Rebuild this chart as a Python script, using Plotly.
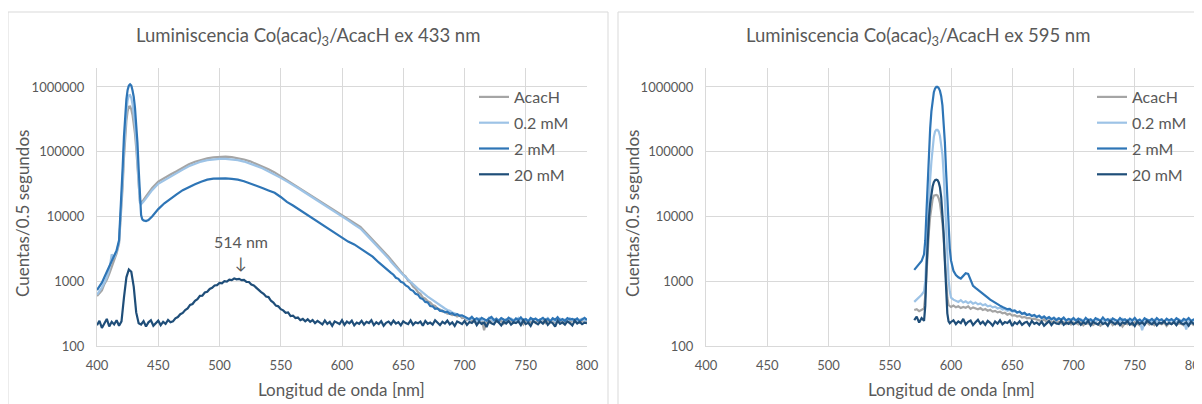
import plotly.graph_objects as go

# ---------------- Left chart (ex 433 nm) ----------------
wl_433_smooth = [400, 402, 404, 406, 408, 410, 412, 414, 416, 418,
                 420, 421, 422, 423, 424, 425, 426, 427, 428, 429,
                 430, 431, 432, 433, 434, 435, 436, 437, 438, 440,
                 442, 445, 450, 455, 460, 465, 470, 475, 480, 485,
                 490, 495, 500, 505, 510, 515, 520, 525, 530, 535,
                 540, 545, 550, 555, 560, 565, 570, 575, 580, 585,
                 590, 595, 600, 605, 610, 615, 620, 625, 630, 635, 638]
wl_433_tail = list(range(640, 801, 2))
wl_433 = wl_433_smooth + wl_433_tail

acach_433 = [590, 640, 720, 900, 1050, 1300, 1650, 2000, 2700, 3800,
             12000, 30000, 80000, 170000, 300000, 420000, 495000, 500000, 450000, 370000,
             280000, 190000, 115000, 60000, 28000, 17500, 16500, 17000, 18000, 20500,
             23000, 27500, 34500, 39500, 44500, 50000, 57000, 64000, 70000, 75000,
             79000, 82000, 84000, 84000, 82500, 80000, 76000, 71000, 65000, 59500,
             53700, 47900, 41700, 36700, 32400, 28200, 24500, 21400, 18600, 16200,
             14100, 12300, 10700, 9100, 7900, 6900, 5500, 4400, 3550, 2750, 2400,
             2150, 1930, 1780, 1550, 1440, 1270, 1180, 1020, 950, 830,
             770, 680, 640, 560, 540, 490, 470, 430, 415, 375,
             365, 340, 340, 315, 315, 300, 305, 285, 295, 270, 275,
             250, 262, 238, 255, 230, 248, 260, 175, 245, 228,
             252, 240, 265, 232, 246, 222, 255, 238, 248, 230,
             258, 236, 244, 215, 250, 240, 232, 255, 228, 246,
             238, 252, 225, 244, 236, 250, 230, 242, 256, 228,
             240, 248, 226, 252, 236, 244, 230, 250, 238, 242]

mm02_433 = [620, 700, 800, 950, 1150, 1500, 2600, 2300, 2900, 4000,
            14000, 38000, 110000, 240000, 430000, 620000, 740000, 750000, 680000, 540000,
            400000, 260000, 150000, 70000, 30000, 16500, 15500, 16000, 17000, 19000,
            21500, 25500, 32000, 36500, 41000, 46500, 53000, 59500, 65500, 70500,
            74000, 76500, 77500, 77500, 76000, 74000, 70500, 66000, 60500, 55500,
            50000, 45000, 39500, 34800, 30800, 26800, 23300, 20300, 17700, 15400,
            13400, 11700, 10200, 8700, 7500, 6500, 5200, 4150, 3350, 2600, 2250,
            2000, 1800, 1650, 1480, 1360, 1250, 1150, 1060, 960, 890,
            840, 770, 720, 660, 620, 580, 545, 505, 480, 450,
            420, 395, 380, 360, 350, 330, 320, 305, 300, 290, 282,
            262, 248, 270, 255, 240, 266, 250, 258, 244, 272,
            252, 240, 262, 250, 268, 246, 258, 242, 264, 252,
            248, 270, 238, 256, 262, 246, 258, 240, 266, 250,
            244, 262, 252, 270, 246, 258, 240, 254, 264, 248,
            256, 242, 268, 250, 260, 246, 254, 264, 244, 258]

mm2_433 = [730, 820, 950, 1150, 1400, 1700, 2150, 2500, 3000, 4300,
           20000, 60000, 170000, 380000, 650000, 900000, 1050000, 1100000, 1050000, 880000,
           700000, 480000, 280000, 140000, 55000, 20000, 10500, 9000, 8700, 8500,
           8800, 10000, 13000, 16000, 19000, 22000, 25500, 28500, 31500, 34500,
           37000, 38500, 38800, 38800, 38000, 37000, 35000, 32500, 30000, 27500,
           25200, 23200, 20000, 16800, 14800, 12800, 11000, 9500, 8300, 7200,
           6200, 5400, 4700, 4100, 3700, 3200, 2750, 2400, 1950, 1600, 1450,
           1350, 1260, 1130, 1090, 980, 950, 860, 820, 740, 710,
           640, 620, 550, 530, 480, 470, 415, 410, 375, 380,
           350, 352, 330, 338, 315, 322, 300, 310, 292, 298, 282,
           275, 260, 282, 255, 268, 250, 272, 258, 246, 266,
           280, 252, 262, 244, 270, 256, 248, 274, 258, 242,
           266, 252, 276, 248, 260, 238, 270, 256, 264, 246,
           258, 272, 250, 262, 240, 268, 254, 278, 248, 260,
           244, 270, 256, 262, 250, 266, 242, 258, 272, 252]

wl_433_20 = list(range(400, 801, 2))
mm20_433 = [210, 245, 190, 230, 262, 200, 236, 215, 250, 205,
            240, 560, 1150, 1520, 1400, 820, 330, 225,
            215, 242, 200, 232, 250, 205, 226, 246, 210, 236, 220, 252, 232,
            240, 268, 280, 310, 325, 360, 380, 430, 445, 500,
            530, 595, 600, 670, 690, 760, 790, 860, 870, 940,
            930, 1000, 990, 1060, 1040, 1100, 1070, 1090, 1040, 1050,
            980, 975, 890, 860, 790, 750, 680, 640, 580, 570,
            500, 470, 420, 410, 370, 355, 325, 330, 290, 295,
            270, 275, 250, 262, 240, 258, 236, 252, 226, 244,
            232, 215, 248, 220, 236, 205, 240, 226, 218, 250,
            212, 238, 224, 246, 208, 230, 220, 244, 214, 236,
            226, 250, 210, 232, 218, 242, 205, 228, 238, 216,
            246, 222, 234, 208, 240, 226, 218, 248, 212, 232,
            224, 238, 206, 244, 220, 230, 214, 250, 226, 210,
            236, 222, 246, 216, 232, 204, 240, 228, 218, 244,
            212, 234, 226, 248, 210, 238, 220, 230, 196, 242,
            224, 216, 246, 230, 208, 236, 222, 244, 214, 232,
            226, 240, 210, 248, 218, 230, 204, 242, 228, 216,
            238, 222, 250, 212, 234, 226, 200, 244, 220, 232,
            214, 240, 226, 208, 246, 222, 236, 218, 230, 224]

# ---------------- Right chart (ex 595 nm) ----------------
wl_595 = [570, 572, 574, 576, 578] + list(range(579, 601)) + list(range(602, 801, 2))

acach_595 = [360, 370, 345, 365, 380,
             600, 1400, 3200, 6000, 10000, 14500, 18500, 21000, 21500, 21500, 21000,
             19000, 16000, 12000, 8000, 4500, 2200, 1000, 560, 430, 410, 400,
             420, 395, 410, 385, 400, 390, 410, 375, 395, 380,
             370, 385, 360, 372, 350, 362, 340, 348, 330, 338,
             320, 326, 305, 315, 295, 300, 285, 292, 275, 282,
             268, 272, 260, 265, 255, 250, 242, 258, 235, 248,
             230, 242, 225, 238, 222, 234, 218, 236, 214, 230,
             226, 215, 234, 208, 228, 220, 236, 212, 226, 218,
             205, 230, 222, 214, 238, 210, 226, 218, 232, 200,
             224, 216, 230, 212, 236, 220, 208, 228, 218, 232,
             214, 226, 210, 236, 222, 216, 230, 204, 226, 218,
             234, 212, 224, 220, 208, 230, 216, 226, 212, 222]

mm02_595 = [480, 520, 560, 620, 700,
            1000, 2500, 7000, 18000, 38000, 70000, 120000, 170000, 205000, 218000, 218000,
            205000, 175000, 135000, 90000, 45000, 17000, 6000, 2200, 1100, 700, 560,
            520, 500, 480, 510, 470, 490, 460, 485, 450, 470,
            440, 455, 425, 440, 410, 420, 395, 405, 380, 390,
            365, 375, 350, 360, 340, 345, 325, 335, 310, 320,
            300, 310, 290, 302, 282, 295, 275, 288, 268, 280,
            262, 275, 258, 270, 250, 265, 245, 260, 248, 258,
            252, 238, 260, 244, 232, 256, 240, 250, 228, 262,
            246, 236, 254, 242, 258, 230, 250, 244, 236, 260,
            240, 252, 226, 248, 256, 238, 250, 175, 232, 258,
            244, 236, 254, 228, 250, 246, 240, 258, 234, 252,
            242, 230, 256, 240, 248, 180, 254, 226, 246, 244]

mm2_595 = [1500, 1650, 1800, 2050, 2600,
           4300, 12000, 40000, 110000, 230000, 420000, 640000, 830000, 950000, 1000000, 1000000,
           960000, 870000, 720000, 520000, 300000, 140000, 50000, 16000, 6500, 3200, 2100,
           1450, 1250, 1150, 1100, 1200, 1330, 1300, 1050, 850, 790,
           740, 700, 650, 600, 560, 520, 490, 460, 440, 420,
           400, 390, 370, 375, 350, 355, 330, 340, 315, 325,
           300, 310, 290, 300, 280, 292, 270, 285, 262, 278,
           258, 272, 250, 268, 255, 275, 248, 262, 252, 270,
           246, 265, 252, 240, 272, 250, 258, 238, 268, 254,
           244, 275, 248, 260, 236, 266, 252, 242, 270, 250,
           258, 240, 264, 248, 272, 244, 256, 238, 268, 252,
           246, 262, 240, 270, 250, 258, 236, 264, 248, 260,
           242, 268, 252, 238, 262, 250, 270, 244, 256, 262]

mm20_595 = [250, 285, 230, 270, 245,
            420, 1600, 4500, 9500, 16000, 23000, 29000, 34000, 36500, 37000, 36500,
            33500, 28000, 20000, 12000, 5500, 2000, 700, 320, 240, 225, 235,
            250, 218, 240, 226, 262, 215, 236, 248, 210, 232,
            254, 220, 238, 212, 244, 228, 206, 240, 222, 250,
            216, 234, 226, 246, 204, 232, 218, 240, 212, 228,
            236, 208, 244, 220, 230, 214, 238, 206, 226, 242,
            210, 234, 222, 218, 246, 212, 230, 220, 238, 216,
            228, 240, 212, 232, 220, 246, 208, 236, 224, 214,
            240, 218, 230, 206, 244, 226, 216, 236, 210, 232,
            222, 242, 214, 228, 204, 238, 220, 232, 212, 244,
            226, 216, 236, 208, 230, 222, 240, 214, 228, 218,
            234, 210, 242, 224, 216, 232, 206, 238, 220, 228]

series_names = ["AcacH", "0.2 mM", "2 mM", "20 mM"]
series_colors = ["#A5A5A5", "#9DC3E6", "#2E75B6", "#1F4E79"]
x_ticks = [400, 450, 500, 550, 600, 650, 700, 750, 800]
y_ticks = [100, 1000, 10000, 100000, 1000000]
y_ticktext = ["100", "1000", "10000", "100000", "1000000"]

W, H = 1202, 404
OFF = 8  # page body margin offset
FONT = "Lato, Carlito, 'Open Sans', sans-serif"
TXT = "#595959"
GRID = "#D9D9D9"

def px_x(p):
    return (p - OFF) / W

def px_y(p):
    return 1 - (p - OFF) / H

fig = go.Figure()

left_sets = [(wl_433, acach_433), (wl_433, mm02_433), (wl_433, mm2_433), (wl_433_20, mm20_433)]
right_sets = [(wl_595, acach_595), (wl_595, mm02_595), (wl_595, mm2_595), (wl_595, mm20_595)]

for i, (xv, yv) in enumerate(left_sets):
    fig.add_trace(go.Scatter(x=xv, y=yv, mode="lines", name=series_names[i],
                             line=dict(color=series_colors[i], width=2.2),
                             xaxis="x", yaxis="y", legend="legend",
                             legendgroup="L%d" % i))
for i, (xv, yv) in enumerate(right_sets):
    fig.add_trace(go.Scatter(x=xv, y=yv, mode="lines", name=series_names[i],
                             line=dict(color=series_colors[i], width=2.2),
                             xaxis="x2", yaxis="y2", legend="legend2",
                             legendgroup="R%d" % i))

yrange = [2, 6.293]
ydom = [px_y(346), px_y(68)]

def xaxis(dom, anchor):
    return dict(domain=dom, range=[400, 800], tickvals=x_ticks, anchor=anchor,
                showgrid=True, gridcolor=GRID, gridwidth=1, zeroline=False,
                showline=True, linecolor=GRID, linewidth=1, ticks="", automargin=False,
                ticklabelstandoff=7, tickfont=dict(family=FONT, size=13, color=TXT))

def yaxis(anchor):
    return dict(domain=ydom, type="log", range=yrange, tickvals=y_ticks, ticktext=y_ticktext,
                anchor=anchor, showgrid=True, gridcolor=GRID, gridwidth=1, zeroline=False,
                showline=True, linecolor=GRID, linewidth=1, ticks="", automargin=False,
                ticklabelstandoff=9, tickfont=dict(family=FONT, size=13, color=TXT))

legend_common = dict(xanchor="left", yanchor="top", bgcolor="rgba(0,0,0,0)",
                     font=dict(family=FONT, size=16, color=TXT), tracegroupgap=2,
                     itemwidth=30)

fig.update_layout(
    template="none",
    width=W, height=H, margin=dict(l=0, r=0, t=0, b=0, pad=0, autoexpand=False),
    paper_bgcolor="white", plot_bgcolor="white",
    xaxis=xaxis([px_x(97), px_x(587)], "y"),
    yaxis=yaxis("x"),
    xaxis2=xaxis([px_x(706), px_x(1196)], "y2"),
    yaxis2=yaxis("x2"),
    legend=dict(x=px_x(474), y=px_y(80), **legend_common),
    legend2=dict(x=px_x(1092), y=px_y(80), **legend_common),
    showlegend=True,
)

# chart area borders
fig.add_shape(type="rect", xref="paper", yref="paper", x0=px_x(8), x1=px_x(608),
              y0=-0.05, y1=px_y(12), line=dict(color=GRID, width=1), layer="below")
fig.add_shape(type="rect", xref="paper", yref="paper", x0=px_x(618), x1=1.05,
              y0=-0.05, y1=px_y(12), line=dict(color=GRID, width=1), layer="below")

titles = [("Luminiscencia Co(acac)<sub>3</sub>/AcacH ex 433 nm", 308),
          ("Luminiscencia Co(acac)<sub>3</sub>/AcacH ex 595 nm", 918)]
for t, cx in titles:
    fig.add_annotation(text=t, xref="paper", yref="paper", x=px_x(cx), y=px_y(37),
                       showarrow=False, xanchor="center", yanchor="middle",
                       font=dict(family=FONT, size=18.5, color=TXT))

for cx in (22, 632):
    fig.add_annotation(text="Cuentas/0.5 segundos", xref="paper", yref="paper",
                       x=px_x(cx), y=px_y(214), textangle=-90, showarrow=False,
                       xanchor="center", yanchor="middle",
                       font=dict(family=FONT, size=17, color=TXT))

for cx in (342, 951):
    fig.add_annotation(text="Longitud de onda [nm]", xref="paper", yref="paper",
                       x=px_x(cx), y=px_y(389), showarrow=False,
                       xanchor="center", yanchor="middle",
                       font=dict(family=FONT, size=17, color=TXT))

fig.add_annotation(text="514 nm<br>↓", xref="paper", yref="paper",
                   x=px_x(241), y=px_y(252), showarrow=False,
                   xanchor="center", yanchor="middle",
                   font=dict(family=FONT, size=16, color=TXT))

fig.write_html("out.html")
